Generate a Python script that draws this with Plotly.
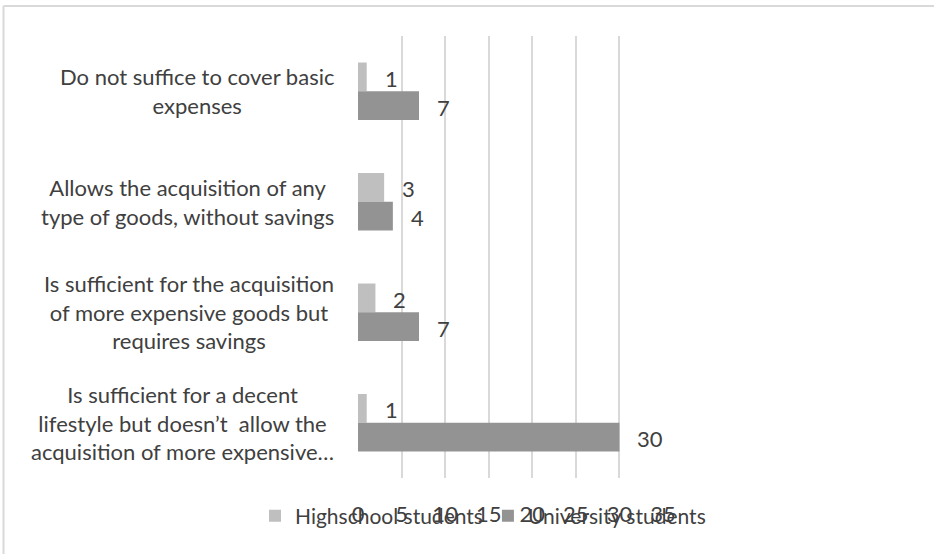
import plotly.graph_objects as go

# Survey: how well does the monthly income cover spending needs
categories = [
    "Do not suffice to cover basic<br>expenses",
    "Allows the acquisition of any<br>type of goods, without savings",
    "Is sufficient for the acquisition<br>of more expensive goods but<br>requires savings",
    "Is sufficient for a decent<br>lifestyle but doesn\u2019t  allow the<br>acquisition of more expensive\u2026",
]
cat_keys = ["c1", "c2", "c3", "c4"]
highschool = [1, 3, 2, 1]
university = [7, 4, 7, 30]
series_names = ["Highschool students", "University students"]
series_colors = ["#bfbfbf", "#939393"]
x_ticks = [0, 5, 10, 15, 20, 25, 30, 35]

FONT = "Lato"
TXT = "#404040"
FS = 22

W, H = 934, 554
L, R, T, B = 358, 271, 36, 76
plot_w = W - L - R
plot_h = H - T - B

fig = go.Figure()
for name, vals, col in zip(series_names, [highschool, university], series_colors):
    fig.add_trace(go.Bar(
        y=cat_keys, x=vals, name=name, orientation="h",
        marker=dict(color=col, line=dict(width=0)),
    ))

annotations = []
# value labels just past the bar ends
bar_half = 14.3
for vals, shift in [(highschool, bar_half), (university, -bar_half)]:
    for key, v in zip(cat_keys, vals):
        annotations.append(dict(
            x=v, y=key, xref="x", yref="y", text=str(v), showarrow=False,
            xanchor="left", yanchor="middle", xshift=16, yshift=shift - 1.5,
            font=dict(family=FONT, size=FS, color=TXT),
        ))
# category labels, lines centred within each block
for key, label in zip(cat_keys, categories):
    annotations.append(dict(
        x=0, y=key, xref="paper", yref="y", text=label, showarrow=False,
        xanchor="right", yanchor="middle", align="center", xshift=-22,
        font=dict(family=FONT, size=FS, color=TXT),
    ))

def px_x(p):
    return (p - L) / plot_w

def px_y(p):
    return (H - B - p) / plot_h

frame = dict(color="#d9d9d9", width=2)

fig.update_layout(
    width=W, height=H,
    margin=dict(l=L, r=R, t=T, b=B, pad=0),
    paper_bgcolor="white", plot_bgcolor="white",
    barmode="group", bargap=0.48, bargroupgap=0,
    font=dict(family=FONT, size=FS, color=TXT),
    xaxis=dict(
        range=[0, 35], tickvals=x_ticks, ticktext=[str(t) for t in x_ticks],
        showgrid=True, gridcolor="#d9d9d9", gridwidth=1.5,
        zeroline=False, showline=False, ticks="",
        ticklabelstandoff=21,
        tickfont=dict(family=FONT, size=FS, color=TXT),
    ),
    yaxis=dict(
        categoryorder="array", categoryarray=cat_keys, autorange="reversed",
        showticklabels=False, showgrid=False, zeroline=False, showline=False,
    ),
    legend=dict(
        orientation="h", x=px_x(255), xanchor="left",
        y=px_y(516), yanchor="middle",
        font=dict(family=FONT, size=FS - 1, color=TXT),
        itemwidth=30, bgcolor="rgba(0,0,0,0)",
        traceorder="normal",
    ),
    annotations=annotations,
    shapes=[
        # chart frame: only its top and left edges fall inside the canvas
        dict(type="line", xref="paper", yref="paper",
             x0=px_x(3.5), x1=px_x(W), y0=px_y(6), y1=px_y(6),
             line=frame, layer="below"),
        dict(type="line", xref="paper", yref="paper",
             x0=px_x(3.5), x1=px_x(3.5), y0=px_y(6), y1=px_y(H),
             line=frame, layer="below"),
    ],
)

fig.write_html("out.html")
